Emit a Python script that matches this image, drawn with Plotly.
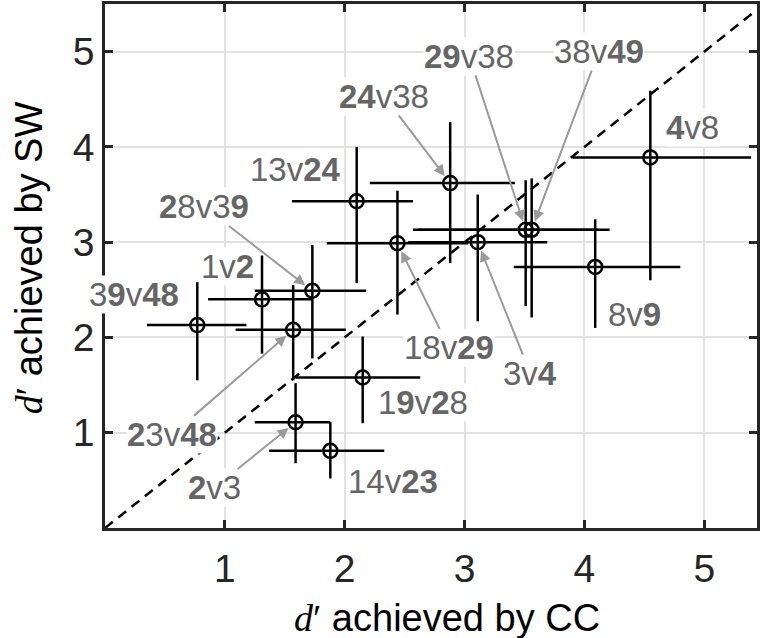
import plotly.graph_objects as go

# Pairwise comparisons: d' achieved by CC (x) vs. by SW (y), with 95% intervals
pairs = ["13v24", "18v29", "24v38", "3v4", "29v38", "38v49", "4v8", "8v9",
         "39v48", "1v2", "28v39", "23v48", "19v28", "2v3", "14v23"]
pair_labels = ["13v<b>24</b>", "18v<b>29</b>", "<b>24</b>v38", "3v<b>4</b>",
               "<b>29</b>v38", "38v<b>49</b>", "<b>4</b>v8", "8v<b>9</b>",
               "3<b>9</b>v<b>48</b>", "1v<b>2</b>", "<b>2</b>8v3<b>9</b>",
               "<b>2</b>3v<b>48</b>", "1<b>9</b>v<b>2</b>8", "<b>2</b>v3",
               "14v<b>23</b>"]
cc = [2.10, 2.44, 2.88, 3.11, 3.51, 3.56, 4.55, 4.09,
      0.77, 1.31, 1.73, 1.57, 2.15, 1.59, 1.88]
cc_lo = [1.56, 1.85, 2.21, 2.53, 2.57, 2.61, 3.90, 3.41,
         0.35, 0.86, 1.25, 1.09, 1.59, 1.25, 1.37]
cc_hi = [2.57, 3.03, 3.42, 3.69, 4.11, 4.21, 5.39, 4.80,
         1.18, 1.73, 2.18, 2.01, 2.63, 1.88, 2.33]
sw = [3.43, 2.99, 3.62, 3.00, 3.13, 3.13, 3.89, 2.74,
      2.13, 2.40, 2.49, 2.08, 1.58, 1.11, 0.81]
sw_lo = [2.57, 2.24, 2.78, 2.17, 2.33, 2.21, 2.60, 2.10,
         1.55, 1.83, 1.78, 1.55, 1.10, 0.68, 0.52]
sw_hi = [4.00, 3.54, 4.26, 3.50, 3.65, 3.67, 4.59, 3.24,
         2.58, 2.86, 2.97, 2.55, 2.01, 1.52, 1.11]
ticks = [1, 2, 3, 4, 5]

# Where each pair label sits (data coords) and whether it points at its marker
label_pos = {
    "13v24": (1.59, 3.76, False), "18v29": (2.87, 1.89, True),
    "24v38": (2.33, 4.53, True), "3v4": (3.55, 1.62, True),
    "29v38": (3.04, 4.95, True), "38v49": (4.12, 5.00, True),
    "4v8": (4.90, 4.20, False), "8v9": (4.42, 2.24, False),
    "39v48": (0.24, 2.45, False), "1v2": (1.02, 2.75, False),
    "28v39": (0.83, 3.37, True), "23v48": (0.56, 0.98, True),
    "19v28": (2.65, 1.32, False), "2v3": (0.91, 0.42, True),
    "14v23": (2.40, 0.49, False),
}

XMAX, YMAX = 5.44, 5.5
AXIS_COL = "#262626"
LABEL_COL = "#656565"
ARROW_COL = "#9a9a9a"
FONT = "Liberation Sans, Arial, Helvetica, sans-serif"

fig = go.Figure()

# identity line
fig.add_trace(go.Scatter(
    x=[0, XMAX], y=[0, XMAX], mode="lines",
    line=dict(color="black", width=2.5, dash="10px,7px"),
    hoverinfo="skip", showlegend=False, cliponaxis=True))

fig.add_trace(go.Scatter(
    x=cc, y=sw, mode="markers", showlegend=False,
    marker=dict(symbol="circle-open", size=14, color="black",
                line=dict(width=2.5, color="black")),
    error_x=dict(type="data", symmetric=False,
                 array=[h - v for h, v in zip(cc_hi, cc)],
                 arrayminus=[v - l for v, l in zip(cc, cc_lo)],
                 width=0, thickness=2.5, color="black"),
    error_y=dict(type="data", symmetric=False,
                 array=[h - v for h, v in zip(sw_hi, sw)],
                 arrayminus=[v - l for v, l in zip(sw, sw_lo)],
                 width=0, thickness=2.5, color="black"),
    text=pairs, hoverinfo="text+x+y"))

annotations = []
for name, html, x0, y0 in zip(pairs, pair_labels, cc, sw):
    lx, ly, arrow = label_pos[name]
    ann = dict(text=html, font=dict(family=FONT, size=33, color=LABEL_COL),
               bgcolor="white", borderpad=0)
    if arrow:
        ann.update(x=x0, y=y0, xref="x", yref="y", ax=lx, ay=ly,
                   axref="x", ayref="y", showarrow=True, arrowhead=2,
                   arrowsize=1.1, arrowwidth=2, arrowcolor=ARROW_COL,
                   standoff=9)
    else:
        ann.update(x=lx, y=ly, xref="x", yref="y", showarrow=False)
    annotations.append(ann)

dprime = "<span style=\"font-family:'Liberation Serif', serif\"><i>d</i>′</span>"
title_font = dict(family=FONT, size=38, color="black")
annotations.append(dict(text=dprime + " achieved by CC", xref="paper", yref="paper",
                        x=0.524, y=-0.172, xanchor="center", yanchor="middle",
                        showarrow=False, font=title_font))
annotations.append(dict(text=dprime + " achieved by SW", xref="paper", yref="paper",
                        x=0, y=0.515, xshift=-76, xanchor="center", yanchor="middle",
                        textangle=-90, showarrow=False, font=title_font))

axis_common = dict(
    showline=True, linecolor=AXIS_COL, linewidth=2.5, mirror="ticks",
    ticks="inside", ticklen=8, tickwidth=2.5, tickcolor=AXIS_COL,
    tickvals=ticks, ticktext=[str(t) for t in ticks],
    showgrid=True, gridcolor="#e2e2e2", gridwidth=2,
    zeroline=False, tickfont=dict(family=FONT, size=39, color=AXIS_COL),
)

fig.update_layout(
    width=761, height=638,
    margin=dict(l=105, r=1, t=4, b=110),
    paper_bgcolor="white", plot_bgcolor="white",
    xaxis=dict(range=[0, XMAX], ticklabelstandoff=4, **axis_common),
    yaxis=dict(range=[0, YMAX], ticklabelstandoff=0, **axis_common),
    annotations=annotations,
)

fig.write_html("out.html")
